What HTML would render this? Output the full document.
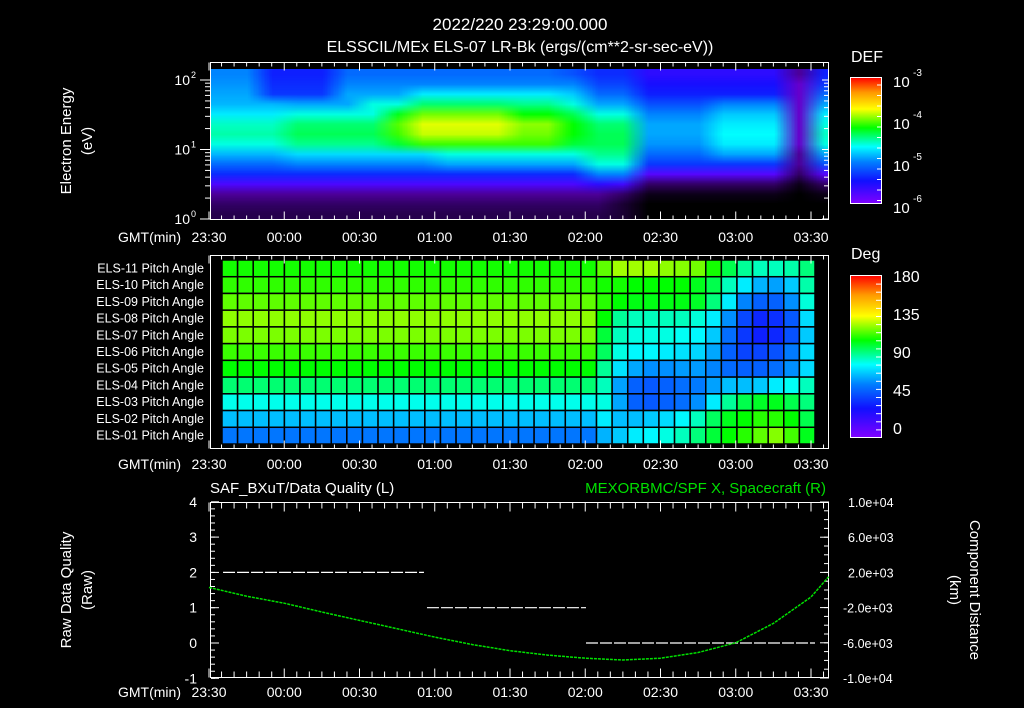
<!DOCTYPE html>
<html><head><meta charset="utf-8">
<style>
html,body{margin:0;padding:0;background:#000;}
#root{position:relative;width:1024px;height:708px;background:#000;overflow:hidden;font-family:"Liberation Sans",sans-serif;}
svg{position:absolute;left:0;top:0;}
canvas{position:absolute;}
</style></head>
<body>
<div id="root">
<canvas id="spec" width="617" height="150" style="left:211px;top:69px;width:617px;height:150px"></canvas>
<svg id="svg" width="1024" height="708" xmlns="http://www.w3.org/2000/svg"></svg>
</div>
<script>
// ---------- DATA ----------
const timeTickLabels = ["23:30","00:00","00:30","01:00","01:30","02:00","02:30","03:00","03:30"];
// spectrogram: log10 DEF, rows bottom (1.2 eV) -> top (123 eV), 25 columns of 10 min from 23:30
const specE0 = [-6.35,-6.35,-6.35,-6.35,-6.35,-6.35,-6.35,-6.35,-6.35,-6.35,-6.35,-6.35,-6.35,-6.35,-6.35,-6.35,-6.4,-6.5,-6.5,-6.5,-6.5,-6.5,-6.5,-6.5,-6.5];
const specE1 = [-6.3,-6.3,-6.3,-6.3,-6.3,-6.3,-6.3,-6.3,-6.3,-6.3,-6.3,-6.3,-6.3,-6.3,-6.3,-6.3,-6.4,-6.5,-6.5,-6.5,-6.5,-6.5,-6.5,-6.5,-6.5];
const specE2 = [-6.2,-6.2,-6.2,-6.2,-6.2,-6.2,-6.2,-6.2,-6.2,-6.2,-6.2,-6.2,-6.2,-6.2,-6.2,-6.2,-6.3,-6.45,-6.45,-6.45,-6.45,-6.45,-6.45,-6.5,-6.45];
const specE3 = [-5.75,-5.75,-5.75,-5.75,-5.75,-5.75,-5.75,-5.75,-5.75,-5.75,-5.75,-5.75,-5.75,-5.75,-5.75,-5.6,-5.7,-6.3,-6.3,-6.3,-6.3,-6.3,-6.3,-6.45,-6.3];
const specE4 = [-5.35,-5.35,-5.35,-5.35,-5.35,-5.35,-5.35,-5.35,-5.35,-5.35,-5.35,-5.35,-5.35,-5.35,-5.35,-5.0,-5.0,-5.8,-5.8,-5.8,-5.8,-5.8,-5.8,-6.3,-5.8];
const specE5 = [-5.1,-5.1,-5.1,-5.0,-5.0,-5.0,-5.0,-5.0,-5.0,-4.9,-4.9,-4.9,-4.9,-4.9,-4.9,-4.6,-4.6,-5.3,-5.3,-5.3,-5.3,-5.3,-5.3,-6.2,-5.2];
const specE6 = [-4.85,-4.85,-4.85,-4.75,-4.75,-4.75,-4.75,-4.75,-4.75,-4.6,-4.6,-4.6,-4.6,-4.6,-4.6,-4.45,-4.45,-5.1,-5.1,-5.1,-4.9,-4.9,-4.9,-6.2,-4.9];
const specE7 = [-4.6,-4.6,-4.6,-4.45,-4.45,-4.45,-4.45,-4.3,-4.1,-4.1,-4.1,-4.1,-4.1,-4.1,-4.3,-4.35,-4.35,-4.95,-4.95,-4.95,-4.7,-4.7,-4.7,-6.1,-4.6];
const specE8 = [-4.5,-4.5,-4.5,-4.35,-4.35,-4.35,-4.35,-4.1,-3.85,-3.85,-3.85,-3.85,-4.0,-4.0,-4.2,-4.35,-4.35,-4.9,-4.9,-4.9,-4.65,-4.65,-4.65,-6.1,-4.55];
const specE9 = [-4.55,-4.55,-4.55,-4.4,-4.4,-4.4,-4.4,-4.05,-3.8,-3.8,-3.8,-3.8,-3.95,-3.95,-4.2,-4.4,-4.4,-4.9,-4.9,-4.9,-4.7,-4.7,-4.7,-6.1,-4.6];
const specE10 = [-4.7,-4.7,-4.7,-4.6,-4.6,-4.6,-4.6,-4.25,-4.0,-4.0,-4.0,-4.0,-4.2,-4.2,-4.35,-4.6,-4.6,-5.0,-5.0,-5.0,-4.8,-4.8,-4.8,-6.1,-4.7];
const specE11 = [-4.85,-4.85,-4.85,-4.9,-4.9,-4.9,-4.6,-4.6,-4.4,-4.4,-4.4,-4.4,-4.45,-4.45,-4.6,-4.9,-4.9,-5.2,-5.2,-5.2,-5.0,-5.0,-5.0,-6.1,-4.9];
const specE12 = [-4.9,-4.9,-5.3,-5.3,-5.3,-4.9,-4.9,-4.9,-4.7,-4.7,-4.7,-4.7,-4.7,-4.7,-4.8,-5.1,-5.1,-5.4,-5.4,-5.4,-5.4,-5.4,-5.4,-6.1,-5.1];
const specE13 = [-4.95,-4.95,-5.35,-5.35,-5.35,-5.0,-5.0,-5.0,-5.0,-5.0,-5.0,-5.0,-5.0,-5.0,-5.0,-5.25,-5.25,-5.5,-5.5,-5.5,-5.5,-5.5,-5.5,-6.1,-5.3];
const specE14 = [-5.0,-5.0,-5.4,-5.4,-5.4,-5.1,-5.1,-5.1,-5.1,-5.1,-5.1,-5.1,-5.1,-5.1,-5.2,-5.35,-5.35,-5.6,-5.6,-5.6,-5.6,-5.6,-5.6,-6.2,-5.4];
const specRows = [specE0,specE1,specE2,specE3,specE4,specE5,specE6,specE7,specE8,specE9,specE10,specE11,specE12,specE13,specE14];
const defTickLabels = ["-3","-4","-5","-6"];

// pitch angles (deg), 38 columns, rows ELS-11 (top) ... ELS-01 (bottom)
const pitchLabels = ["ELS-11","ELS-10","ELS-09","ELS-08","ELS-07","ELS-06","ELS-05","ELS-04","ELS-03","ELS-02","ELS-01"];
function row(base, tail){ const a=[]; for(let i=0;i<24;i++) a.push(base); return a.concat(tail); }
const pa11 = row(110,[118,125,125,125,123,122,120,110,100,92,88,88,90,95]);
const pa10 = row(113,[110,110,108,108,108,108,105,100,88,78,68,65,72,90]);
const pa09 = row(118,[112,108,106,106,106,106,104,95,78,60,52,52,62,85]);
const pa08 = row(123,[108,92,88,88,88,88,85,78,62,46,38,40,50,75]);
const pa07 = row(121,[102,88,84,84,84,82,80,72,55,42,36,38,48,72]);
const pa06 = row(114,[98,84,80,80,78,76,74,66,52,45,45,48,58,75]);
const pa05 = row(108,[92,76,66,62,62,64,64,60,54,52,52,55,62,75]);
const pa04 = row(96,[88,65,52,50,52,55,58,65,70,70,72,78,82,88]);
const pa03 = row(83,[84,66,52,50,52,55,62,78,92,100,104,105,100,95]);
const pa02 = row(70,[78,70,70,72,75,80,88,98,105,108,112,112,108,100]);
const pa01 = row(57,[68,72,78,80,84,88,95,102,108,112,118,122,115,105]);
const pitchRows = [pa11,pa10,pa09,pa08,pa07,pa06,pa05,pa04,pa03,pa02,pa01];
const pitchTickLabels = ["180","135","90","45","0"];

// data quality segments: [startMin, endMin, value]
const qualStart = [5.6, 86.9, 150.3];
const qualEnd = [85.7, 150.3, 241.6];
const qualVal = [2, 1, 0];
const leftTickLabels = ["4","3","2","1","0","-1"];
// spacecraft X distance (km), minutes from 23:30
const distMin = [0,15,30,45,60,75,90,105,120,135,150,165,180,195,210,225,240,247];
const distKm = [300,-700,-1500,-2500,-3450,-4400,-5350,-6200,-6900,-7400,-7750,-7950,-7750,-7100,-6000,-3800,-800,1500];
const rightTickLabels = ["1.0e+04","6.0e+03","2.0e+03","-2.0e+03","-6.0e+03","-1.0e+04"];

// ---------- helpers ----------
const NS="http://www.w3.org/2000/svg";
const svg=document.getElementById('svg');
function el(tag, attrs, parent){ const e=document.createElementNS(NS,tag); for(const k in attrs) e.setAttribute(k,attrs[k]); (parent||svg).appendChild(e); return e; }
function txt(x,y,s,opt){ opt=opt||{}; const t=el('text',{x:x,y:y,fill:opt.fill||'#fff','font-size':opt.size||15,'text-anchor':opt.anchor||'start','font-family':'"Liberation Sans",sans-serif'}); if(opt.transform) t.setAttribute('transform',opt.transform); if(opt.weight) t.setAttribute('font-weight',opt.weight); t.textContent=s; return t; }
const stops=[[0,[128,0,255]],[0.18,[16,16,255]],[0.33,[0,128,255]],[0.45,[0,255,255]],[0.6,[0,255,0]],[0.75,[255,255,0]],[0.88,[255,153,0]],[1,[255,0,0]]];
function cmap(f){ f=Math.max(0,Math.min(1,f)); for(let i=1;i<stops.length;i++){ if(f<=stops[i][0]){ const a=stops[i-1],b=stops[i]; const t=(f-a[0])/(b[0]-a[0]); return [0,1,2].map(k=>Math.round(a[1][k]+(b[1][k]-a[1][k])*t)); } } return stops[stops.length-1][1]; }
function rgb(c){ return 'rgb('+c[0]+','+c[1]+','+c[2]+')'; }
function defColor(v){ if(v>=-6) return cmap((v+6)/3); const t=Math.min(1,(-6-v)/0.5); const p=cmap(0); return p.map(x=>Math.round(x*(1-t))); }
const X0=209, PXMIN=2.5083;
function xT(min){ return X0+min*PXMIN; }

// ---------- titles ----------
txt(520,30,"2022/220 23:29:00.000",{anchor:'middle',size:17});
txt(520,52,"ELSSCIL/MEx ELS-07 LR-Bk  (ergs/(cm**2-sr-sec-eV))",{anchor:'middle',size:16});

function timeAxis(y0,y1,labelY,maj,minr){
  for(let m=0;m<=245;m+=5){
    const x=xT(m); const big=(m%30===0);
    const l=big?maj:minr;
    const t1=el('line',{x1:x,y1:y1,x2:x,y2:y1-l,stroke:'#fff','stroke-width':1});
    
    
    const t2=el('line',{x1:x,y1:y0,x2:x,y2:y0+l,stroke:'#fff','stroke-width':1});
    
    
  }
  timeTickLabels.forEach((s,i)=>{ const t=txt(xT(i*30),labelY,s,{anchor:'middle',size:14});   });
  const g=txt(181,labelY,"GMT(min)",{anchor:'end',size:14});  
}

// ---------- panel 1: spectrogram ----------
(function(){
  const small=document.createElement('canvas'); small.width=25; small.height=15;
  const sc=small.getContext('2d'); const img=sc.createImageData(25,15);
  for(let r=0;r<15;r++) for(let c=0;c<25;c++){ const col=defColor(specRows[r][c]); const i=((14-r)*25+c)*4; img.data[i]=col[0];img.data[i+1]=col[1];img.data[i+2]=col[2];img.data[i+3]=255; }
  sc.putImageData(img,0,0);
  const ctx=document.getElementById('spec').getContext('2d');
  ctx.imageSmoothingEnabled=true;
  const colW=10*PXMIN;
  ctx.drawImage(small,0,0,25,15,-(211-X0),0,25*colW,150);
})();
el('rect',{x:210.5,y:62.5,width:618,height:157,fill:'none',stroke:'#fff','stroke-width':1});
timeAxis(62.5,219.5,242,8,4);
function eY(logE){ return 219-logE*69.5; }
[0,1,2].forEach(p=>{ const y=eY(p); el('line',{x1:200,y1:y,x2:211,y2:y,stroke:'#fff'}); el('line',{x1:822,y1:y,x2:829,y2:y,stroke:'#fff'});
  const t=txt(190,y+5,"10",{anchor:'end',size:14});  
  txt(191,y-2,String(p),{size:9});
  for(let k=2;k<10&&p<2;k++){ const yy=eY(p+Math.log10(k)); el('line',{x1:205,y1:yy,x2:211,y2:yy,stroke:'#fff'}); el('line',{x1:824,y1:yy,x2:829,y2:yy,stroke:'#fff'}); }
});
txt(0,0,"Electron Energy",{anchor:'middle',size:15,transform:'translate(71,141) rotate(-90)'});
txt(0,0,"(eV)",{anchor:'middle',size:15,transform:'translate(92,141) rotate(-90)'});

// colorbars
(function(){
  const g=el('linearGradient',{id:'gcb',x1:0,y1:1,x2:0,y2:0},el('defs',{}));
  stops.forEach(s=>el('stop',{offset:s[0],'stop-color':rgb(s[1])},g));
  const r=el('rect',{x:850.5,y:77.5,width:31,height:126,fill:'url(#gcb)',stroke:'#fff'});  
  const r2=el('rect',{x:850.5,y:275.5,width:31,height:162,fill:'url(#gcb)',stroke:'#fff'});  
  txt(851,62,"DEF",{size:16});
  defTickLabels.forEach((s,i)=>{ const y=77+i*42; txt(893,y+10,"10",{size:15}); txt(913,y-1,s,{size:10}); });
  for(let k=0;k<12;k++){ const y=85+k*10.5; el('line',{x1:877,y1:y,x2:881,y2:y,stroke:'#fff'}); }
  txt(851,259,"Deg",{size:16});
  pitchTickLabels.forEach((s,i)=>{ const y=276+i*38; txt(893,y+6,s,{size:16}); });
  for(let k=1;k<20;k++){ const y=276+k*8.1; el('line',{x1:876,y1:y,x2:881,y2:y,stroke:'#fff'}); }
})();

// ---------- panel 2: pitch angles ----------
(function(){
  const cx0=222, cw=(815-222)/38, ry0=260, rh=(444-260)/11;
  pitchRows.forEach((r,ri)=>{ r.forEach((v,ci)=>{
    const c=el('rect',{x:cx0+ci*cw,y:ry0+ri*rh,width:cw,height:rh,fill:rgb(cmap(v/180)),stroke:'#000','stroke-width':1.5});
    
    
  });
    const t=txt(204,ry0+ri*rh+rh/2+4,pitchLabels[ri]+" Pitch Angle",{anchor:'end',size:12.5});
    
    
  });
})();
el('rect',{x:210.5,y:255.5,width:618,height:193,fill:'none',stroke:'#fff'});
timeAxis(255.5,448.5,469,8,4);

// ---------- panel 3: quality & distance ----------
el('rect',{x:210.5,y:502.5,width:618,height:175,fill:'none',stroke:'#fff'});
timeAxis(502.5,677.5,697,9,6);
function yL(v){ return 643-v*35.3; }
function yR(v){ return 590-v*0.0088; }
leftTickLabels.forEach((s,i)=>{ const v=4-i; const y=yL(v); el('line',{x1:211,y1:y,x2:219,y2:y,stroke:'#fff'});
  const t=txt(197,y+5,s,{anchor:'end',size:14});   });
for(let v=-1;v<4;v+=0.2){ const y=yL(v); el('line',{x1:211,y1:y,x2:215,y2:y,stroke:'#fff'}); }
rightTickLabels.forEach((s,i)=>{ const v=10000-i*4000; const y=yR(v); el('line',{x1:820,y1:y,x2:829,y2:y,stroke:'#fff'});
  const t=txt(s[0]==='-'?843:848,y+5,s,{size:12.5});   });
for(let v=-10000;v<10000;v+=1000){ const y=yR(v); el('line',{x1:824,y1:y,x2:829,y2:y,stroke:'#fff'}); }
qualVal.forEach((v,i)=>{ const l=el('line',{x1:xT(qualStart[i]),y1:yL(v),x2:xT(qualEnd[i]),y2:yL(v),stroke:'#fff','stroke-width':1.2,'stroke-dasharray':'12 2'});
  
   });
(function(){ let d=''; distMin.forEach((m,i)=>{ d+=(i?'L':'M')+xT(m).toFixed(1)+','+yR(distKm[i]).toFixed(1); });
  const p=el('path',{d:d,fill:'none',stroke:'#00e000','stroke-width':1.5,'stroke-dasharray':'3 1'});
  
   })();
txt(210,493,"SAF_BXuT/Data Quality (L)",{size:15});
txt(826,493,"MEXORBMC/SPF X, Spacecraft (R)",{anchor:'end',size:15,fill:'#00e000'});
txt(0,0,"Raw Data Quality",{anchor:'middle',size:15,transform:'translate(71,590) rotate(-90)'});
txt(0,0,"(Raw)",{anchor:'middle',size:15,transform:'translate(92,590) rotate(-90)'});
txt(0,0,"Component Distance",{anchor:'middle',size:15,transform:'translate(970,590) rotate(90)'});
txt(0,0,"(km)",{anchor:'middle',size:15,transform:'translate(950,590) rotate(90)'});
</script>
</body></html>
